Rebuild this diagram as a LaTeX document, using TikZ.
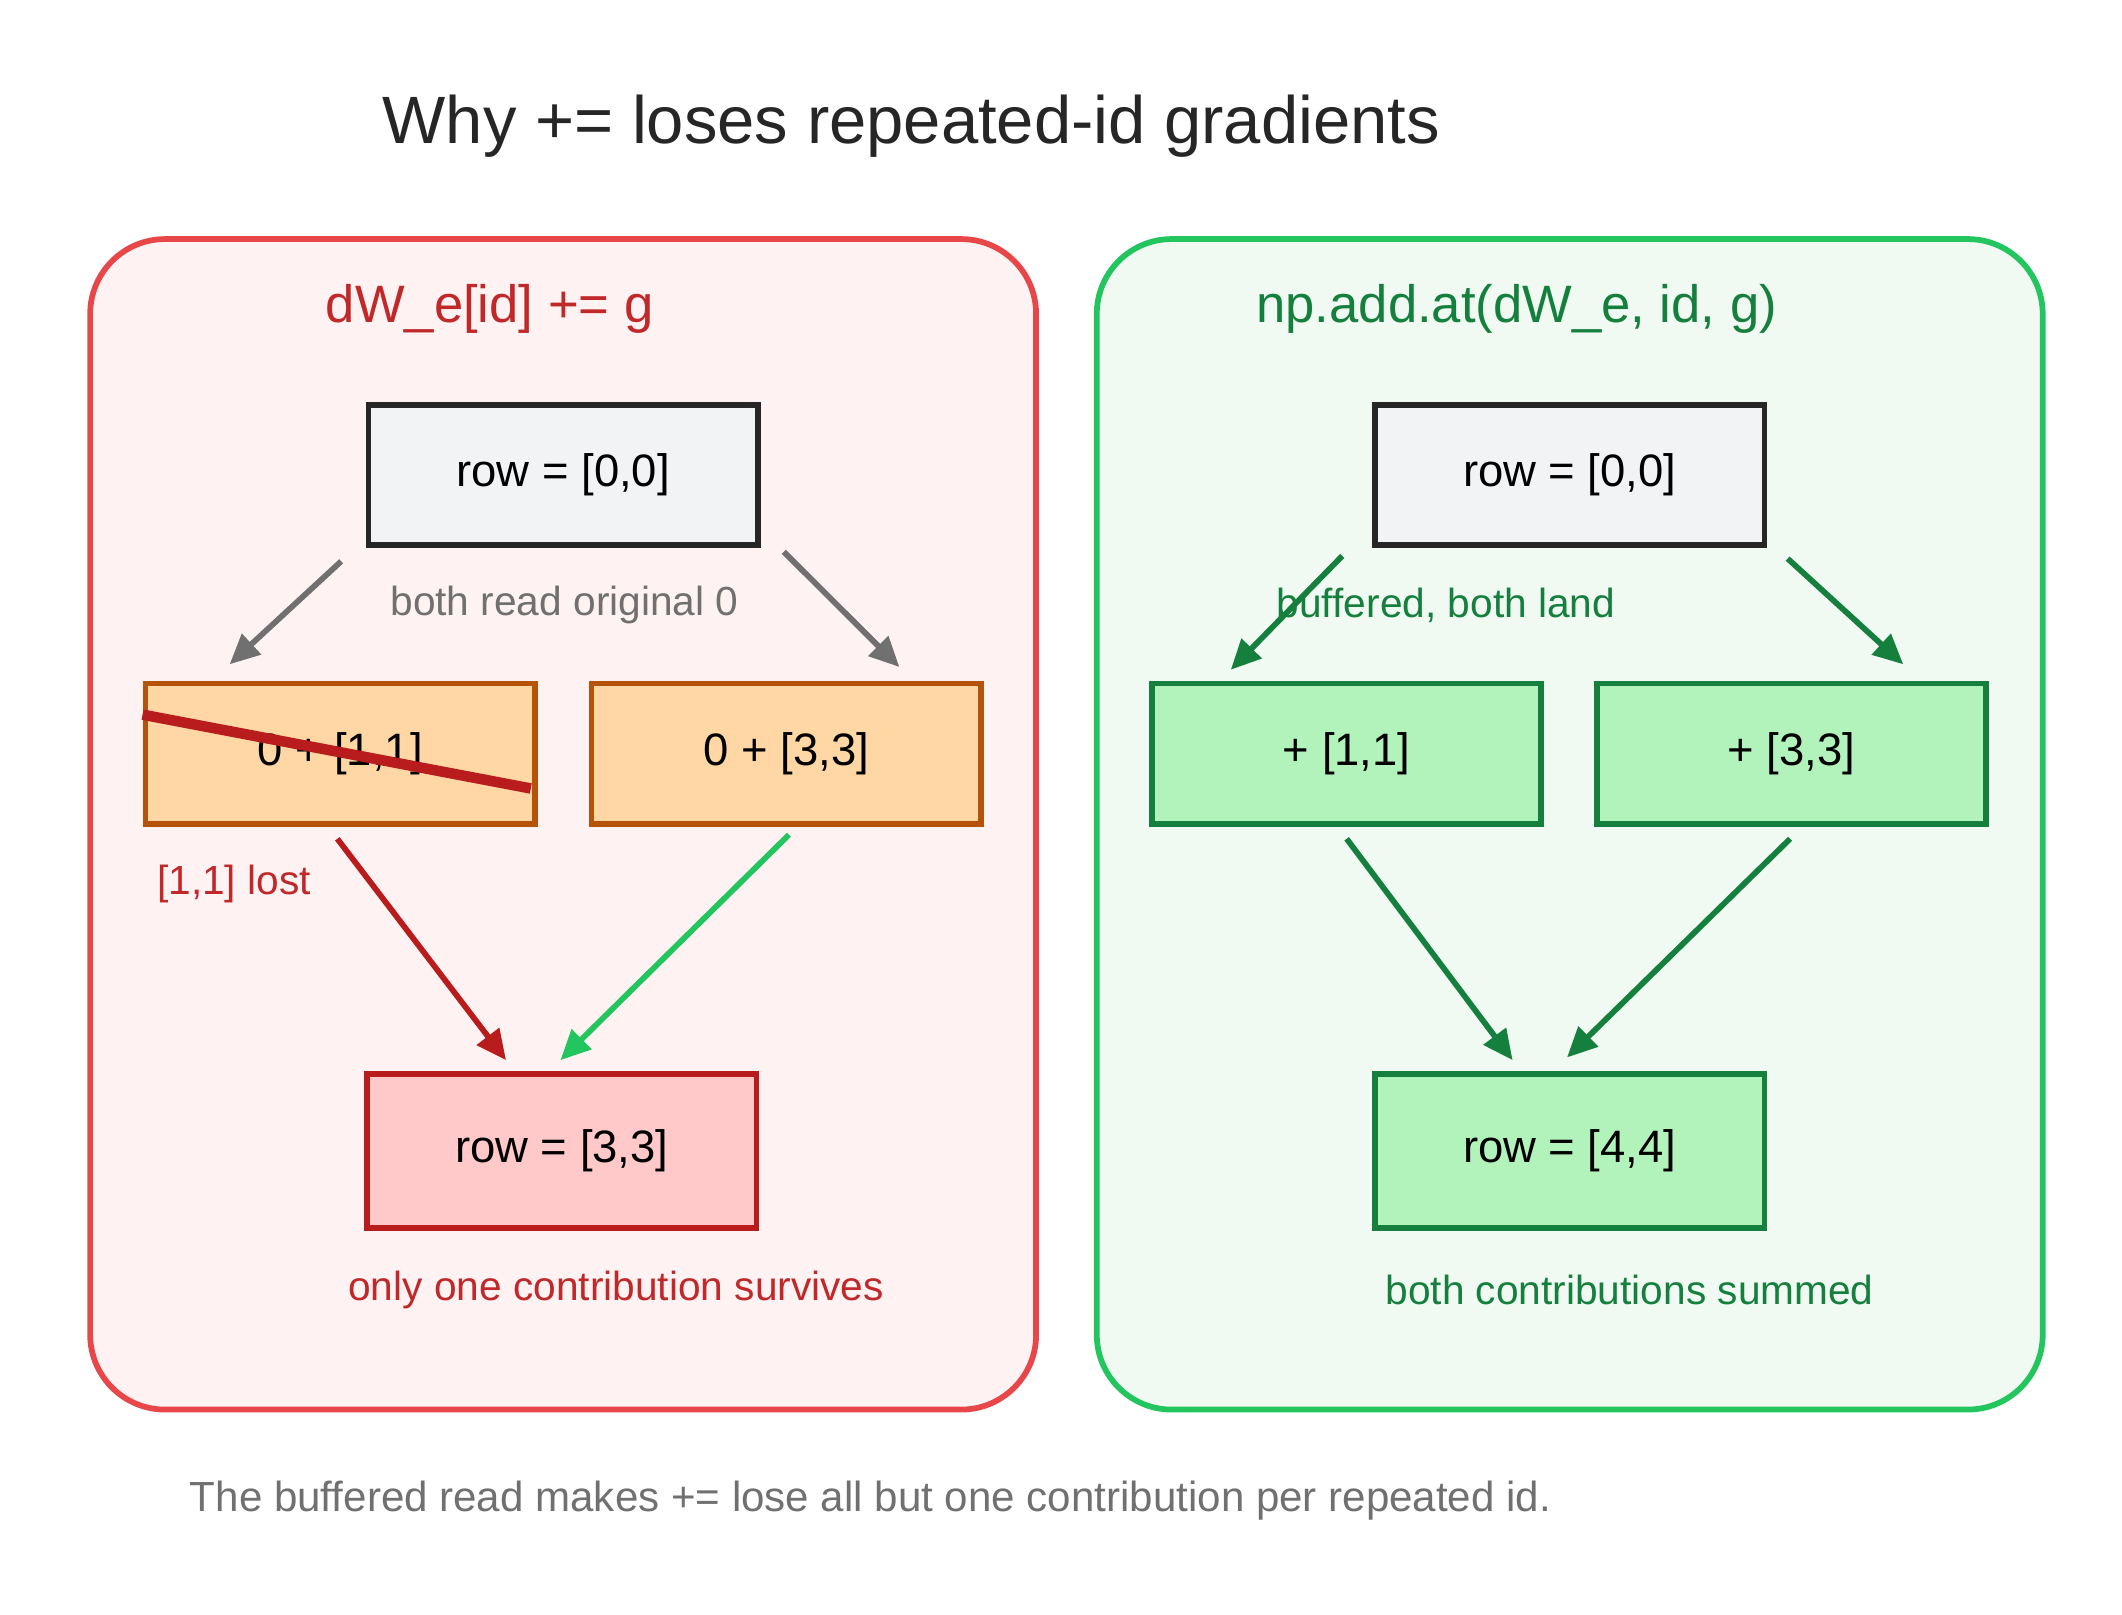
\documentclass[tikz,border=0pt]{standalone}
\usepackage{fontspec}
\setmainfont{Liberation Sans}
\usetikzlibrary{positioning}
\usetikzlibrary{arrows.meta}
\usetikzlibrary{calc}
\definecolor{redline}{HTML}{E8474A}
\definecolor{redfill}{HTML}{FEF3F2}
\definecolor{redtext}{HTML}{C0282A}
\definecolor{greenline}{HTML}{22C55E}
\definecolor{greenfill}{HTML}{F0F9F2}
\definecolor{greentext}{HTML}{15803D}
\definecolor{orangefill}{HTML}{FED7A5}
\definecolor{orangeline}{HTML}{B45309}
\definecolor{mintfill}{HTML}{B2F2BB}
\definecolor{pinkfill}{HTML}{FFC9C9}
\definecolor{darkred}{HTML}{B91C1C}
\definecolor{greyfill}{HTML}{F1F3F5}
\definecolor{greytext}{HTML}{707070}

\begin{document}
\begin{tikzpicture}[x=0.01cm, y=-0.01cm]
	\tikzset{
		panel/.style={rectangle, rounded corners=0.55cm, very thick, minimum width=6.95cm, minimum height=8.6cm},
		box/.style={rectangle, very thick, minimum width=2.86cm, minimum height=1.03cm, font=\fontsize{9.5}{12}\selectfont},
		note/.style={font=\fontsize{8.5}{10}\selectfont},
		arr/.style={-{Triangle[length=0.22cm, width=0.2cm]}, very thick},
	}
	\useasboundingbox (0,0) rectangle (1560,1187);

	\node[font=\fontsize{14}{17}\selectfont, text=black!85] (title) at (670,93) {Why += loses repeated-id gradients};

	% left panel
	\node[panel, draw=redline, fill=redfill] (lp) at (414,606) {};
	\node[font=\fontsize{11}{14}\selectfont, text=redtext] (lt) at (360,227) {dW\_e[id] += g};
	\node[box, draw=black!85, fill=greyfill] (ltop) at (414,349) {row = [0,0]};
	\node[box, draw=orangeline, fill=orangefill] (la) at (250,554) {0 + [1,1]};
	\node[box, draw=orangeline, fill=orangefill] (lb) at (578,554) {0 + [3,3]};
	\node[box, draw=darkred, fill=pinkfill, minimum height=1.13cm] (lbot) at (413,846) {row = [3,3]};
	\draw[darkred, line width=2.2pt] ($(la.north west)+(0,25)$) -- ($(la.south east)+(-5,-28)$);

	\draw[arr, greytext] ($(ltop.south west)+(-18,10)$) -- ($(la.north west)+(64,-12)$);
	\draw[arr, greytext] ($(ltop.south east)+(17,3)$) -- ($(lb.north east)+(-62,-10)$);
	\node[note, text=greytext] (lnote) at (415,445) {both read original 0};

	\draw[arr, darkred] ($(la.south)+(-2,9)$) -- ($(lbot.north)+(-41,-8)$);
	\draw[arr, greenline] ($(lb.south)+(2,6)$) -- ($(lbot.north)+(-1,-8)$);
	\node[note, text=redtext] (lost) at (172,650) {[1,1] lost};
	\node[note, text=redtext] (lsum) at (453,948) {only one contribution survives};

	% right panel
	\node[panel, draw=greenline, fill=greenfill] (rp) at (1154,606) {};
	\node[font=\fontsize{11}{14}\selectfont, text=greentext] (rt) at (1115,227) {np.add.at(dW\_e, id, g)};
	\node[box, draw=black!85, fill=greyfill] (rtop) at (1154,349) {row = [0,0]};
	\node[box, draw=greentext, fill=mintfill] (ra) at (990,554) {+ [1,1]};
	\node[box, draw=greentext, fill=mintfill] (rb) at (1317,554) {+ [3,3]};
	\node[box, draw=greentext, fill=mintfill, minimum height=1.13cm] (rbot) at (1154,846) {row = [4,4]};

	\draw[arr, greentext] ($(rtop.south west)+(-22,6)$) -- ($(ra.north west)+(60,-8)$);
	\draw[arr, greentext] ($(rtop.south east)+(15,8)$) -- ($(rb.north east)+(-63,-12)$);
	\node[note, text=greentext] (rnote) at (1063,445) {buffered, both land};

	\draw[arr, greentext] ($(ra.south)+(0,9)$) -- ($(rbot.north)+(-42,-8)$);
	\draw[arr, greentext] ($(rb.south)+(-1,9)$) -- ($(rbot.north)+(-2,-10)$);
	\node[note, text=greentext] (rsum) at (1198,948) {both contributions summed};

	\node[font=\fontsize{8.8}{11}\selectfont, text=greytext] (foot) at (640,1103) {The buffered read makes += lose all but one contribution per repeated id.};
\end{tikzpicture}
\end{document}
